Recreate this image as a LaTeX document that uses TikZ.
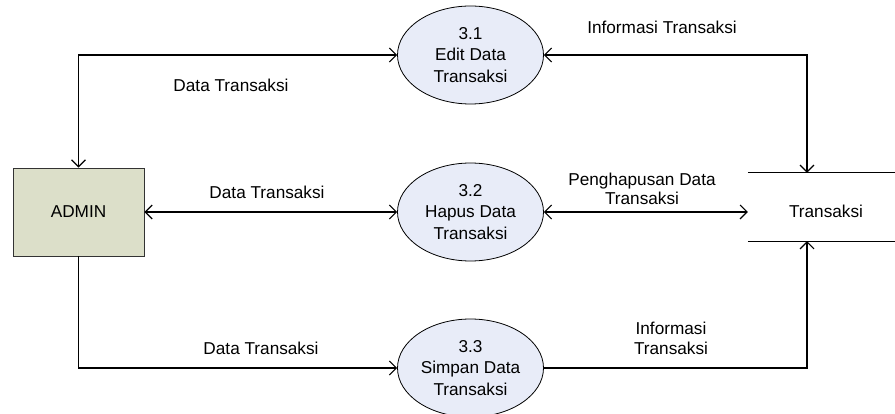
\documentclass[tikz,border=0pt]{standalone}
\usepackage{fontspec}
\setmainfont{Liberation Sans}
\usetikzlibrary{shapes.geometric,arrows.meta}
\definecolor{entityfill}{HTML}{DCDFC9}
\definecolor{procfill}{HTML}{E8ECF8}
\tikzset{
  dfd/.style={x=1pt,y=-1pt,font=\fontsize{17.2}{21.5}\selectfont},
  entity/.style={draw=black!80,line width=0.9pt,fill=entityfill,minimum width=131pt,minimum height=88pt,inner sep=0pt},
  process/.style={ellipse,draw=black,line width=0.8pt,fill=procfill,minimum width=146pt,minimum height=98pt,inner sep=0pt,align=center},
  datastore/.style={minimum width=147pt,minimum height=68pt,inner sep=0pt},
  flow/.style={line width=1.2pt,arrows={Straight Barb[length=7pt,width=14pt,line width=1.1pt]-Straight Barb[length=7pt,width=14pt,line width=1.1pt]}},
  flowto/.style={line width=1.2pt,-{Straight Barb[length=7pt,width=14pt,line width=1.1pt]}},
  lbl/.style={inner sep=0pt,align=center}
}
\begin{document}
\begin{tikzpicture}[dfd]
\useasboundingbox (0,0) rectangle (895,414);

% external entity and processes
\node[entity] (admin) at (78.5,212) {ADMIN};
\node[process] (p31) at (470.5,55) {3.1\\Edit Data\\Transaksi};
\node[process] (p32) at (470.5,212) {3.2\\Hapus Data\\Transaksi};
\node[process] (p33) at (470.5,368) {3.3\\Simpan Data\\Transaksi};

% data store: two horizontal rules with its name between them
\node[datastore] (store) at (821.5,207) {};
\node[lbl] (storename) at (826,211) {Transaksi};
\draw[line width=1.2pt] (store.north west) -- (store.north east);
\draw[line width=1.2pt] (store.south west) -- (store.south east);

% data flows
\draw[flow] (admin.north) |- (p31.west);
\draw[flow] (p31.east) -| ([xshift=-14.5pt]store.north);
\draw[flow] (admin.east) -- (p32.west);
\draw[flow] (p32.east) -- (p32.east -| store.west);
\draw[flowto] (admin.south) |- (p33.west);
\draw[flowto] (p33.east) -| ([xshift=-14.5pt]store.south);

% flow labels
\node[lbl] (l1) at (231,85) {Data Transaksi};
\node[lbl] (l2) at (267,192) {Data Transaksi};
\node[lbl] (l3) at (261,348) {Data Transaksi};
\node[lbl] (l4) at (662,27) {Informasi Transaksi};
\node[lbl] (l5) at (642,189) {Penghapusan Data\\[-2.5pt]Transaksi};
\node[lbl] (l6) at (671,338) {Informasi\\[-1.5pt]Transaksi};
\end{tikzpicture}
\end{document}
